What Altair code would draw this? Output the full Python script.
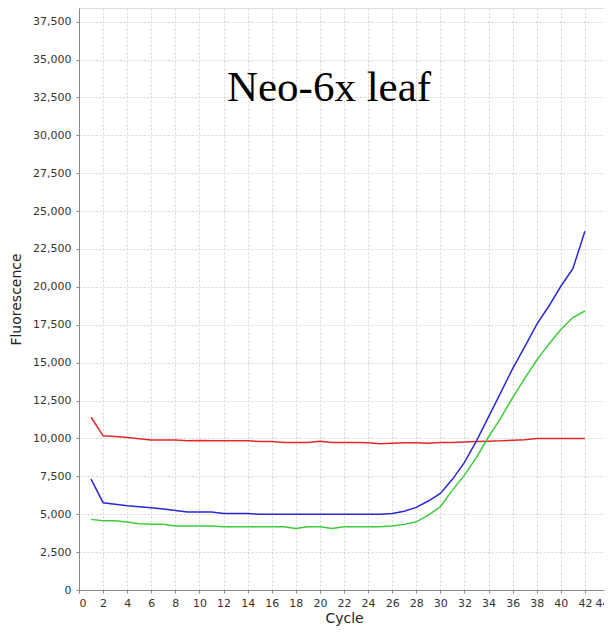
import altair as alt
import pandas as pd

cycles = list(range(1, 43))

red = [11400, 10170, 10120, 10060, 9980, 9890, 9890, 9890, 9840, 9870,
       9840, 9840, 9840, 9840, 9800, 9800, 9730, 9730, 9730, 9820,
       9730, 9730, 9730, 9710, 9650, 9690, 9710, 9710, 9690, 9730,
       9730, 9760, 9800, 9820, 9840, 9880, 9920, 10000, 10000, 10000,
       10000, 10000]

blue = [7320, 5760, 5660, 5560, 5500, 5430, 5340, 5250, 5140, 5140,
        5140, 5050, 5050, 5050, 4990, 4990, 4990, 4990, 4990, 4990,
        4990, 4990, 4990, 4990, 5000, 5050, 5200, 5450, 5870, 6370,
        7300, 8420, 9840, 11420, 13010, 14610, 16040, 17530, 18720, 20040,
        21200, 23670]

green = [4660, 4570, 4570, 4480, 4370, 4330, 4330, 4220, 4220, 4220,
         4220, 4170, 4170, 4170, 4170, 4170, 4170, 4060, 4170, 4170,
         4060, 4170, 4170, 4170, 4170, 4220, 4330, 4500, 4940, 5490,
         6590, 7580, 8750, 10110, 11320, 12700, 13960, 15160, 16220, 17190,
         17980, 18410]

series_names = ["red", "blue", "green"]
series_colors = ["#e02828", "#2828d8", "#3ccc3c"]
x_ticks = list(range(0, 45, 2))
y_ticks = list(range(0, 37501, 2500))

rows = []
for name, vals in zip(series_names, [red, blue, green]):
    for c, v in zip(cycles, vals):
        rows.append({"Cycle": c, "Fluorescence": v, "series": name})
df = pd.DataFrame(rows)

axis_common = dict(
    gridColor="#d4d4d4", gridDash=[2, 2], gridWidth=1,
    domainColor="#888888", tickColor="#888888", tickSize=3,
    labelFont="DejaVu Sans", labelFontSize=11, labelColor="#333333",
    titleFont="DejaVu Sans", titleFontSize=14, titleFontWeight="normal",
    titleColor="#222222",
)

chart = alt.Chart(df).mark_line(strokeWidth=1.5, clip=True).encode(
    x=alt.X("Cycle:Q", scale=alt.Scale(domain=[0, 44], nice=False, zero=False),
            axis=alt.Axis(values=x_ticks, title="Cycle", format="d",
                          labelPadding=4, titlePadding=3, **axis_common)),
    y=alt.Y("Fluorescence:Q", scale=alt.Scale(domain=[0, 38400], nice=False),
            axis=alt.Axis(values=y_ticks, title="Fluorescence", format=",d",
                          labelPadding=5, titlePadding=9, **axis_common)),
    color=alt.Color("series:N", scale=alt.Scale(domain=series_names, range=series_colors),
                    legend=None),
    detail="series:N",
).properties(
    width=530,
    height=582,
    title=alt.TitleParams(
        text="Neo-6x leaf", font="Liberation Serif", fontSize=43, fontWeight="normal",
        color="#000000", anchor="middle", orient="top", frame="group",
        baseline="alphabetic", offset=0, dy=136, dx=-15,
    ),
    autosize=alt.AutoSizeParams(type="none"),
    padding={"left": 71, "top": 0, "right": -5, "bottom": 37},
).configure_view(
    stroke="#888888", strokeWidth=1,
).configure(background="white")

chart.save("out.html", embed_options={"renderer": "svg", "actions": False})
